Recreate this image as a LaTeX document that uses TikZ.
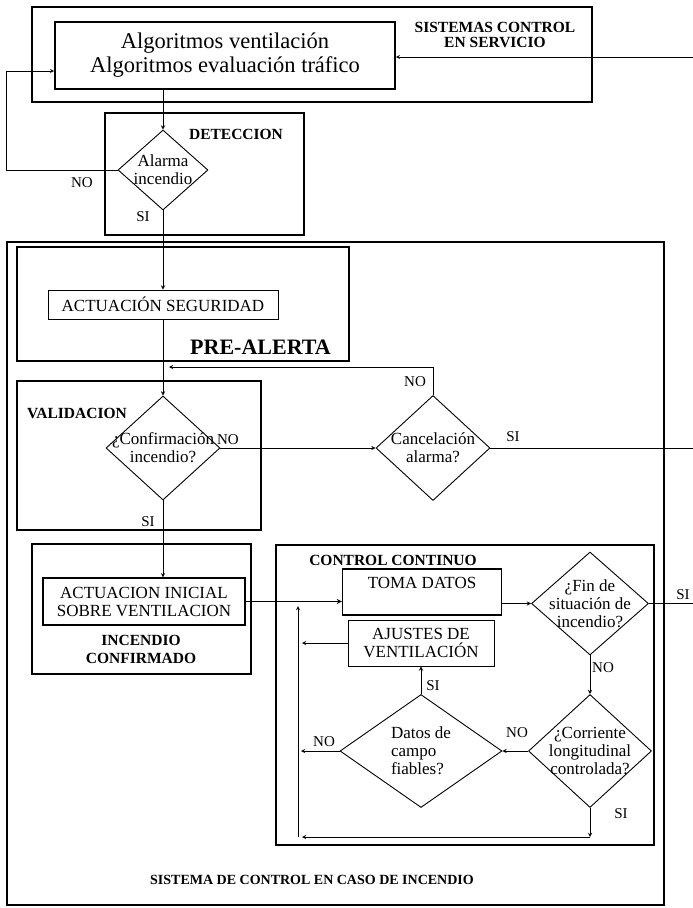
\documentclass[tikz,border=0pt]{standalone}
\usepackage{fontspec}
\setmainfont{Liberation Serif}
\usetikzlibrary{shapes.geometric}

\begin{document}
\begin{tikzpicture}[x=1pt, y=-1pt,
        marco/.style={draw, line width=1.6pt},
        caja/.style={rectangle, draw, line width=0.9pt, align=center, inner sep=3pt,
            font=\fontsize{17}{18}\selectfont},
        decision/.style={diamond, draw, line width=0.9pt, align=center, inner sep=-12pt,
            font=\fontsize{17}{18}\selectfont},
        titulo/.style={align=center, inner sep=0pt, font=\bfseries\fontsize{15.5}{15.5}\selectfont},
        resp/.style={inner sep=0pt, font=\fontsize{15}{15}\selectfont},
        flecha/.style={->, >=stealth, line width=0.9pt},
        linea/.style={line width=0.9pt}]
    \useasboundingbox (0,0) rectangle (693,908);

    %%%%%%%%%% Marcos %%%%%%%%%%
    \draw[marco] (32,7) rectangle (592,102);
    \draw[marco] (105,113) rectangle (304,235);
    \draw[marco, line width=1.2pt] (7,242) rectangle (664,905);
    \draw[marco] (17,247) rectangle (349,361);
    \draw[marco] (17,381) rectangle (261,530);
    \draw[marco] (32,544) rectangle (251,674);
    \draw[marco] (276,545) rectangle (654,845);

    %%%%%%%%%% Nodos %%%%%%%%%%
    \node[caja, line width=1.6pt, minimum width=340pt, minimum height=67pt, font=\fontsize{22.5}{24}\selectfont] (algo) at (225,55.5) {Algoritmos ventilación\\Algoritmos evaluación tráfico};
    \node[decision, minimum width=90pt, minimum height=80pt] (alarma) at (163,170) {Alarma\\incendio};
    \node[caja, minimum width=230pt, minimum height=29pt] (seguridad) at (163,304.5) {ACTUACIÓN SEGURIDAD};
    \node[decision, minimum width=114pt, minimum height=104pt] (confirma) at (163,448) {¿Confirmación\\incendio?};
    \node[decision, minimum width=114pt, minimum height=105pt] (cancela) at (433,448) {Cancelación\\alarma?};
    \node[caja, line width=1.2pt, minimum width=202pt, minimum height=47pt] (inicial) at (144,601.5) {ACTUACION INICIAL\\SOBRE VENTILACION};
    \node[caja, line width=1.2pt, minimum width=159pt, minimum height=46pt, text height=16pt, text depth=24pt] (toma) at (422,592) {TOMA DATOS};
    \node[caja, minimum width=146pt, minimum height=46pt] (ajustes) at (421,643) {AJUSTES DE\\VENTILACIÓN};
    \node[decision, minimum width=117pt, minimum height=103pt] (fin) at (590,603.5) {¿Fin de\\situación de\\incendio?};
    \node[decision, minimum width=123pt, minimum height=113pt] (corriente) at (590,751) {¿Corriente\\longitudinal\\controlada?};
    \node[decision, minimum width=162pt, minimum height=113pt, align=left] (datos) at (421,751) {Datos de\\campo\\fiables?};

    %%%%%%%%%% Titulos %%%%%%%%%%
    \node[titulo] (tServicio) at (495,35) {SISTEMAS CONTROL\\EN SERVICIO};
    \node[titulo] (tDeteccion) at (236,134) {DETECCION};
    \node[titulo, font=\bfseries\fontsize{22}{22}\selectfont] (tPrealerta) at (260.5,347) {PRE-ALERTA};
    \node[titulo] (tValidacion) at (77,413) {VALIDACION};
    \node[titulo, font=\bfseries\fontsize{15.5}{18}\selectfont] (tConfirmado) at (141,649) {INCENDIO\\CONFIRMADO};
    \node[titulo] (tContinuo) at (393,560) {CONTROL CONTINUO};
    \node[titulo, font=\bfseries\fontsize{14}{14}\selectfont] (tIncendio) at (312,880) {SISTEMA DE CONTROL EN CASO DE INCENDIO};

    %%%%%%%%%% Flechas %%%%%%%%%%
    \coordinate (entrada) at (693,57);
    \coordinate (salidaA) at (693,448);
    \coordinate (salidaB) at (693,603.5);
    \coordinate (retorno) at (298,837);
    \draw[flecha] (entrada) -- (algo.east |- entrada);
    \draw[flecha] (alarma.north |- algo.south) -- (alarma.north);
    \draw[flecha] (alarma.west) -| (6,71) -- (algo.west |- 0,71);
    \draw[flecha] (alarma.south) -- (alarma.south |- seguridad.north);
    \draw[flecha] (seguridad.south) -- (confirma.north);
    \draw[flecha] (cancela.north) |- (169,367);
    \draw[flecha] (confirma.east) -- (cancela.west);
    \draw[linea] (cancela.east) -- (salidaA);
    \draw[flecha] (confirma.south) -- (confirma.south |- inicial.north);
    \draw[flecha, line width=1.3pt] (inicial.east) -- (toma.west |- inicial.east);
    \draw[flecha] (toma.east |- fin.west) -- (fin.west);
    \draw[linea] (fin.east) -- (salidaB);
    \draw[flecha] (fin.south) -- (corriente.north);
    \draw[flecha] (corriente.west) -- (datos.east);
    \draw[flecha] (datos.north) -- (ajustes.south);
    \draw[flecha] (ajustes.west) -- (302,643);
    \draw[flecha] (datos.west) -- (301,751);
    \draw[flecha] (corriente.south) -- (corriente.south |- retorno);
    \draw[flecha] (corriente.south |- retorno) -- ([xshift=4pt]retorno);
    \draw[flecha] (retorno) -- (298,606);

    %%%%%%%%%% Respuestas %%%%%%%%%%
    \node[resp] (noAlarma) at (82,183) {NO};
    \node[resp] (siAlarma) at (143,217) {SI};
    \node[resp] (noCancela) at (415,382) {NO};
    \node[resp] (noConfirma) at (228,440) {NO};
    \node[resp] (siCancela) at (513,437) {SI};
    \node[resp] (siConfirma) at (148,522) {SI};
    \node[resp] (siFin) at (683,595) {SI};
    \node[resp] (noFin) at (603,668) {NO};
    \node[resp] (siDatos) at (433,686) {SI};
    \node[resp] (noDatos) at (324,742) {NO};
    \node[resp] (noCorriente) at (517,733) {NO};
    \node[resp] (siCorriente) at (621,814) {SI};
\end{tikzpicture}
\end{document}
